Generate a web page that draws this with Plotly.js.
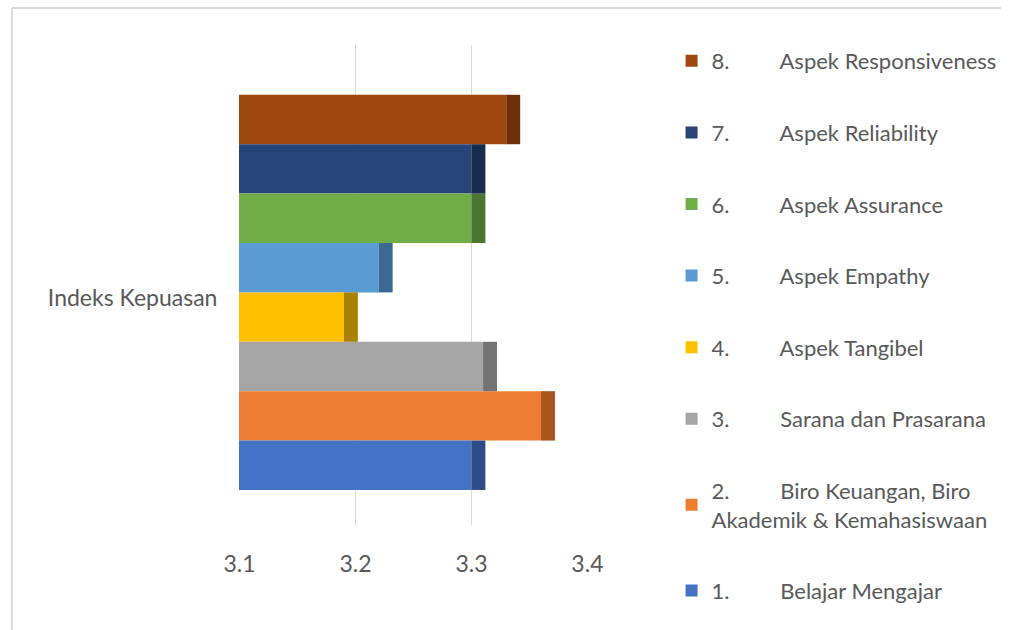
<!DOCTYPE html>
<html>
<head>
<meta charset="utf-8">
<script src="https://cdn.plot.ly/plotly-3.0.1.min.js"></script>
<style>
  html, body { margin: 0; padding: 0; background: #ffffff; }
  #chart { width: 1014px; height: 630px; }
</style>
</head>
<body>
<div id="chart"></div>
<script>
// ---- data ----
var category = ['Indeks Kepuasan'];
var numbers = ['1.', '2.', '3.', '4.', '5.', '6.', '7.', '8.'];
var labels = [
  'Belajar Mengajar',
  'Biro Keuangan, Biro<br>Akademik & Kemahasiswaan',
  'Sarana dan Prasarana',
  'Aspek Tangibel',
  'Aspek Empathy',
  'Aspek Assurance',
  'Aspek Reliability',
  'Aspek Responsiveness'
];
var values = [3.30, 3.36, 3.31, 3.19, 3.22, 3.30, 3.30, 3.33];
var xTicks = [3.1, 3.2, 3.3, 3.4];

// ---- style ----
var faceColors = ['#4472C4', '#ED7D31', '#A5A5A5', '#FFC000', '#5B9BD5', '#70AD47', '#264478', '#9E480E'];
var sideColors = ['#2B4C86', '#A8561C', '#737373', '#A98000', '#3A6A94', '#497630', '#182C4E', '#6A2F08'];
var tabGap = '\u00a0\u00a0\u00a0\u00a0\u00a0\u00a0\u00a0\u00a0\u00a0';
var FONT = 'Lato, "Open Sans", sans-serif';
var barW = 0.1029;
var groupStart = -0.400;
var depth = 0.012;

var traces = [];
// legend order: 8 at top -> add traces from last to first
for (var k = values.length - 1; k >= 0; k--) {
  traces.push({
    type: 'bar', orientation: 'h',
    y: category, x: [values[k]],
    name: numbers[k] + tabGap + labels[k], legendgroup: 'g' + k,
    width: [barW], offset: [groupStart + k * barW],
    marker: { color: faceColors[k], line: { width: 0 } },
    hoverinfo: 'x'
  });
}
for (var j = 0; j < values.length; j++) {
  traces.push({
    type: 'bar', orientation: 'h',
    y: category, x: [depth], base: [values[j]],
    showlegend: false, legendgroup: 'g' + j,
    width: [barW], offset: [groupStart + j * barW],
    marker: { color: sideColors[j], line: { width: 0 } },
    hoverinfo: 'skip'
  });
}

var L = 239, W = 355, T = 45, H = 480;
function px(x) { return (x - L) / W; }
function py(y) { return (T + H - y) / H; }

var layout = {
  width: 1014, height: 630,
  margin: { l: L, r: 1014 - L - W, t: T, b: 630 - T - H },
  paper_bgcolor: '#ffffff', plot_bgcolor: '#ffffff',
  barmode: 'overlay',
  font: { family: FONT, size: 24, color: '#595959' },
  xaxis: {
    range: [3.0995, 3.4005], tickvals: xTicks, tickformat: '.1f',
    showgrid: true, gridcolor: '#D9D9D9', gridwidth: 1.5,
    zeroline: false, showline: false,
    ticks: 'outside', ticklen: 18, tickcolor: 'rgba(0,0,0,0)',
    tickfont: { family: FONT, size: 23, color: '#595959' },
    fixedrange: true
  },
  yaxis: {
    type: 'category', range: [-0.473, 0.527],
    showgrid: false, zeroline: false, showline: false,
    ticks: 'outside', ticklen: 16, tickcolor: 'rgba(0,0,0,0)',
    tickfont: { family: FONT, size: 23, color: '#595959' },
    fixedrange: true
  },
  legend: {
    x: px(679), xanchor: 'left',
    y: py(40), yanchor: 'top',
    traceorder: 'grouped',
    tracegroupgap: 40,
    maxheight: 1000,
    font: { family: FONT, size: 22, color: '#595959' },
    bgcolor: 'rgba(0,0,0,0)'
  },
  shapes: [
    { type: 'line', xref: 'paper', yref: 'paper', x0: px(8), x1: px(8), y0: py(8), y1: py(630), line: { color: '#D9D9D9', width: 2 } },
    { type: 'line', xref: 'paper', yref: 'paper', x0: px(8), x1: px(1014), y0: py(8), y1: py(8), line: { color: '#D9D9D9', width: 2 } }
  ]
};

Plotly.newPlot('chart', traces, layout, { displayModeBar: false, staticPlot: true });
</script>
</body>
</html>
